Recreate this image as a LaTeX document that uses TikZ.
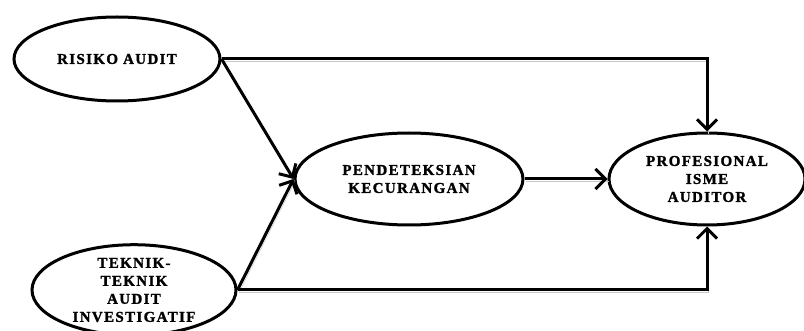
\documentclass[tikz,border=0pt]{standalone}
\usepackage{fontspec}
\setmainfont{Liberation Serif}
\newfontfamily\varfont[LetterSpace=9,BoldFeatures={FakeBold=1.5}]{Liberation Serif}
\usetikzlibrary{arrows.meta,positioning,shapes.geometric}
\tikzset{var/.style={ellipse,draw,line width=3pt,inner sep=0pt,align=center,
    font=\varfont\bfseries\fontsize{15}{18}\selectfont},
  link/.style={line width=3pt,-{Straight Barb[length=10pt,width=20pt]},
    preaction={draw=black!22,-,transform canvas={shift={(1.5pt,-2.5pt)}}}}}

\begin{document}
\begin{tikzpicture}[x=1pt,y=-1pt]
\useasboundingbox (0,0) rectangle (804,331);

% Variables of the model.
\node[var,minimum width=206,minimum height=84] (risk) at (117,59) {RISIKO AUDIT};
\node[var,minimum width=204,minimum height=90] (tech) at (134,290)
  {TEKNIK-\\TEKNIK\\AUDIT\\INVESTIGATIF};
\node[var,minimum width=228,minimum height=92] (fraud) at (409,179)
  {PENDETEKSIAN\\KECURANGAN};
\node[var,minimum width=196,minimum height=92] (prof) at (707,179)
  {PROFESIONAL\\ISME\\AUDITOR};

% Paths between them.
\draw[link] (risk.east) -| (prof.north);
\draw[link] (risk.east) -- (fraud.west);
\draw[link] (tech.east) -- (fraud.west);
\draw[link] (tech.east) -| (prof.south);
\draw[link] (fraud.east) -- (prof.west);
\end{tikzpicture}
\end{document}
